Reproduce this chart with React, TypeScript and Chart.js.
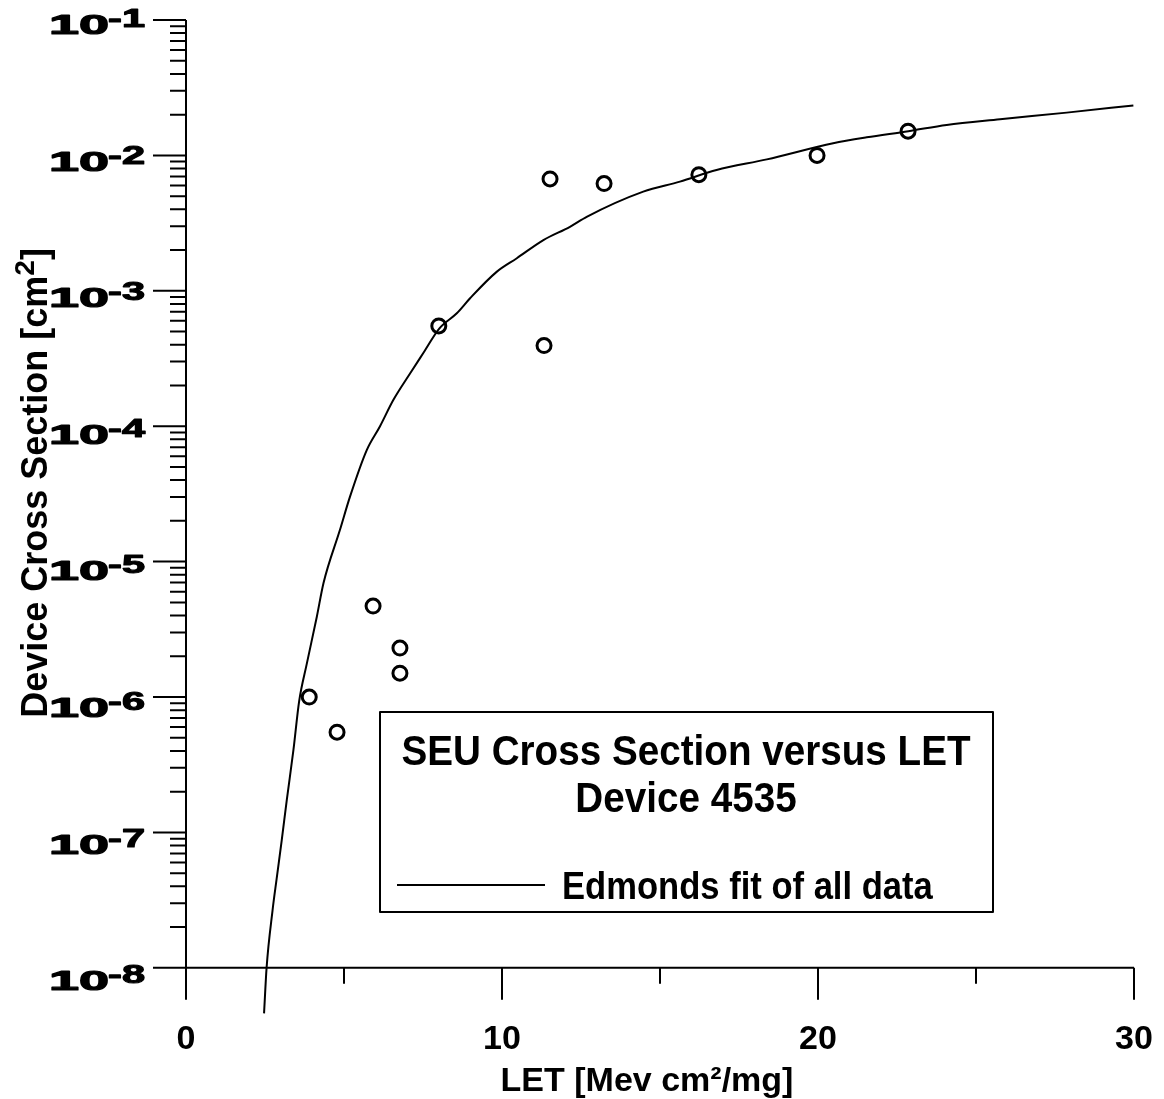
import { useEffect, useRef } from 'react';
import { Chart, registerables } from 'chart.js';

Chart.register(...registerables);

// Measured data (LET in MeV cm^2/mg, cross section in cm^2)
const DATA_LET = [3.9, 4.78, 5.92, 6.77, 6.77, 8.0, 11.33, 11.52, 13.23, 16.23, 19.97, 22.85];
const DATA_XS = [1.0e-6, 5.5e-7, 4.7e-6, 2.3e-6, 1.5e-6, 5.5e-4, 3.94e-4, 6.7e-3, 6.2e-3, 7.2e-3, 1.0e-2, 1.51e-2];

// Edmonds fit curve
const FIT_LET = [2.47, 2.55, 2.74, 2.87, 3.03, 3.19, 3.4, 3.58, 3.82, 4.14, 4.35, 4.87, 5.19, 5.72, 6.14, 6.56, 7.09, 7.51, 8.02, 8.57, 8.99, 9.83, 10.47, 11.31, 12.15, 12.68, 14.47, 15.63, 16.79, 18.38, 20.48, 21.54, 22.86, 24.07, 25.76, 27.87, 29.98];
const FIT_XS = [4.61e-9, 1.0e-8, 2.67e-8, 4.57e-8, 8.79e-8, 1.74e-7, 4.07e-7, 9.3e-7, 1.75e-6, 3.92e-6, 6.92e-6, 1.71e-5, 3.02e-5, 6.67e-5, 1.0e-4, 1.56e-4, 2.45e-4, 3.47e-4, 5.28e-4, 6.82e-4, 8.81e-4, 1.38e-3, 1.74e-3, 2.37e-3, 2.97e-3, 3.52e-3, 5.4e-3, 6.4e-3, 7.8e-3, 9.35e-3, 1.23e-2, 1.36e-2, 1.51e-2, 1.68e-2, 1.85e-2, 2.07e-2, 2.34e-2];

const X_MAJOR_TICKS = [0, 10, 20, 30];
const X_MINOR_TICKS = [5, 15, 25];
const Y_EXPONENTS = [-1, -2, -3, -4, -5, -6, -7, -8];
const Y_MINOR_MULTS = [2, 3, 4, 5, 6, 7, 8, 9];

const TITLE_LINES = ['SEU Cross Section versus LET', 'Device 4535'];
const LEGEND_LABEL = 'Edmonds fit of all data';
const X_TITLE = 'LET [Mev cm²/mg]';
const Y_TITLE_PARTS = ['Device Cross Section [cm', '2', ']'];

const FONT = '"Liberation Sans", Arial, Helvetica, sans-serif';

function fillScaled(ctx: CanvasRenderingContext2D, text: string, x: number, y: number, sx: number, align: 'left' | 'center') {
  ctx.save();
  ctx.translate(x, y);
  ctx.scale(sx, 1);
  ctx.textAlign = align;
  ctx.fillText(text, 0, 0);
  ctx.restore();
}

const axesPlugin = {
  id: 'customAxes',
  afterDraw(chart: any) {
    const ctx = chart.ctx as CanvasRenderingContext2D;
    const xs = chart.scales.x;
    const ys = chart.scales.y;
    const x0 = xs.getPixelForValue(0);
    const xEnd = xs.getPixelForValue(30);
    const yBase = ys.getPixelForValue(1e-8);
    const yTop = ys.getPixelForValue(1e-1);
    ctx.save();
    ctx.strokeStyle = '#000';
    ctx.fillStyle = '#000';
    ctx.lineWidth = 2;
    ctx.lineCap = 'butt';
    ctx.beginPath();
    ctx.moveTo(x0, yTop);
    ctx.lineTo(x0, yBase + 32);
    ctx.moveTo(x0 - 33, yBase);
    ctx.lineTo(xEnd, yBase);
    Y_EXPONENTS.forEach((e) => {
      const py = ys.getPixelForValue(Math.pow(10, e));
      ctx.moveTo(x0 - 33, py);
      ctx.lineTo(x0, py);
      if (e > -8) {
        Y_MINOR_MULTS.forEach((m) => {
          const my = ys.getPixelForValue(m * Math.pow(10, e - 1));
          ctx.moveTo(x0 - 16, my);
          ctx.lineTo(x0, my);
        });
      }
    });
    X_MAJOR_TICKS.forEach((v) => {
      const px = xs.getPixelForValue(v);
      ctx.moveTo(px, yBase);
      ctx.lineTo(px, yBase + 32);
    });
    X_MINOR_TICKS.forEach((v) => {
      const px = xs.getPixelForValue(v);
      ctx.moveTo(px, yBase);
      ctx.lineTo(px, yBase + 16);
    });
    ctx.stroke();

    // x tick labels
    ctx.font = `bold 34px ${FONT}`;
    ctx.textAlign = 'center';
    ctx.textBaseline = 'alphabetic';
    X_MAJOR_TICKS.forEach((v) => {
      ctx.fillText(String(v), xs.getPixelForValue(v), 1049);
    });

    // y tick labels: stretched "10" with superscript exponent
    Y_EXPONENTS.forEach((e, i) => {
      const py = ys.getPixelForValue(Math.pow(10, e));
      const base = py + 14 + 1.2 * i;
      const sx = 2.0;
      ctx.textAlign = 'left';
      ctx.font = `bold 27px ${FONT}`;
      ctx.lineWidth = 1.1;
      ctx.lineJoin = 'round';
      const w10 = ctx.measureText('10').width * sx;
      const startX = 49;
      ctx.save();
      ctx.translate(startX, base);
      ctx.scale(sx, 1);
      ctx.fillText('10', 0, 0);
      ctx.strokeText('10', 0, 0);
      ctx.restore();
      ctx.font = `bold 26px ${FONT}`;
      ctx.save();
      ctx.translate(startX + w10 - 1, base - 7);
      ctx.scale(1.6, 1);
      ctx.fillText(String(e), 0, 0);
      ctx.strokeText(String(e), 0, 0);
      ctx.restore();
    });
    ctx.lineWidth = 2;

    // x title
    ctx.font = `bold 34px ${FONT}`;
    ctx.textAlign = 'center';
    ctx.fillText(X_TITLE, 647, 1091);

    // y title (rotated, with superscript)
    ctx.save();
    ctx.translate(47, 483);
    ctx.rotate(-Math.PI / 2);
    ctx.textAlign = 'left';
    ctx.font = `bold 36px ${FONT}`;
    const w1 = ctx.measureText(Y_TITLE_PARTS[0]).width;
    const w3 = ctx.measureText(Y_TITLE_PARTS[2]).width;
    ctx.font = `bold 28px ${FONT}`;
    const w2 = ctx.measureText(Y_TITLE_PARTS[1]).width;
    let tx = -(w1 + w2 + w3) / 2;
    ctx.font = `bold 36px ${FONT}`;
    ctx.fillText(Y_TITLE_PARTS[0], tx, 0);
    tx += w1;
    ctx.font = `bold 28px ${FONT}`;
    ctx.fillText(Y_TITLE_PARTS[1], tx, -13);
    tx += w2;
    ctx.font = `bold 36px ${FONT}`;
    ctx.fillText(Y_TITLE_PARTS[2], tx, 0);
    ctx.restore();

    // legend / title box
    ctx.lineWidth = 2;
    ctx.strokeRect(380, 712, 613, 200);
    ctx.font = `bold 42px ${FONT}`;
    fillScaled(ctx, TITLE_LINES[0], 686, 765, 0.92, 'center');
    fillScaled(ctx, TITLE_LINES[1], 686, 812, 0.92, 'center');
    ctx.beginPath();
    ctx.moveTo(397, 885);
    ctx.lineTo(545, 885);
    ctx.stroke();
    ctx.font = `bold 38px ${FONT}`;
    fillScaled(ctx, LEGEND_LABEL, 562, 899, 0.91, 'left');
    ctx.restore();
  },
};

export default function App() {
  const ref = useRef<HTMLCanvasElement | null>(null);
  useEffect(() => {
    if (!ref.current) return;
    const chart = new Chart(ref.current, {
      type: 'scatter',
      data: {
        datasets: [
          {
            label: LEGEND_LABEL,
            data: FIT_LET.map((x, i) => ({ x, y: FIT_XS[i] })),
            showLine: true,
            borderColor: '#000',
            borderWidth: 2,
            pointRadius: 0,
            cubicInterpolationMode: 'monotone',
            clip: false as any,
          },
          {
            label: 'Data',
            data: DATA_LET.map((x, i) => ({ x, y: DATA_XS[i] })),
            showLine: false,
            pointStyle: 'circle',
            pointRadius: 7,
            borderWidth: 3,
            borderColor: '#000',
            backgroundColor: 'rgba(0,0,0,0)',
            clip: false as any,
          },
        ],
      },
      options: {
        responsive: false,
        animation: false,
        devicePixelRatio: 1,
        layout: { padding: { left: 186, right: 30, top: 20, bottom: 77 } },
        scales: {
          x: { type: 'linear', min: 0, max: 30, display: false },
          y: { type: 'logarithmic', min: Math.pow(10, -8.4), max: 0.1, display: false },
        },
        plugins: {
          legend: { display: false },
          tooltip: { enabled: false },
        },
      },
      plugins: [axesPlugin],
    } as any);
    return () => chart.destroy();
  }, []);
  return (
    <div style={{ position: 'absolute', left: 0, top: 0, width: 1164, height: 1099, background: '#fff' }}>
      <canvas ref={ref} width={1164} height={1099} style={{ display: 'block' }} />
    </div>
  );
}
